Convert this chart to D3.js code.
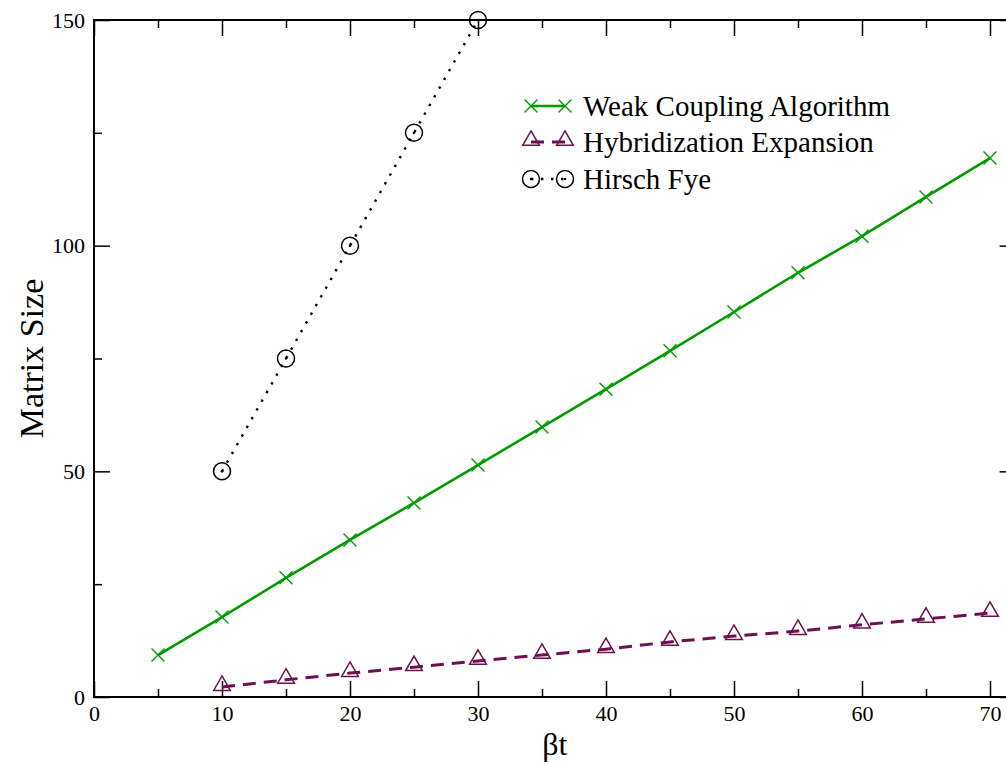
<!DOCTYPE html>
<html lang="en">
<head>
    <meta charset="UTF-8">
    <title>Matrix Size vs beta t</title>
    <script src="https://cdn.jsdelivr.net/npm/d3@7"></script>
    <style>
        body, html {
            margin: 0;
            padding: 0;
            background: #fff;
            overflow: hidden;
        }
        svg {
            display: block;
        }
        svg text {
            font-family: "Liberation Serif", "Times New Roman", serif;
        }
    </style>
</head>
<body>
    <svg id="mainsvg"></svg>
    <script>
        // data
        const weakBeta = [5, 10, 15, 20, 25, 30, 35, 40, 45, 50, 55, 60, 65, 70];
        const weakSize = [9.3, 17.7, 26.4, 34.8, 43.0, 51.4, 59.8, 68.2, 76.7, 85.3, 94.0, 102.1, 110.8, 119.4];

        const hybBeta = [10, 15, 20, 25, 30, 35, 40, 45, 50, 55, 60, 65, 70];
        const hybSize = [2.2, 3.8, 5.3, 6.6, 8.0, 9.3, 10.6, 12.2, 13.5, 14.6, 16.0, 17.3, 18.6];

        const hfBeta = [10, 15, 20, 25, 30];
        const hfSize = [50, 75, 100, 125, 150];

        const xMajor = [0, 10, 20, 30, 40, 50, 60, 70];
        const xMinor = [5, 15, 25, 35, 45, 55, 65];
        const yMajor = [0, 50, 100, 150];
        const yMinor = [25, 75, 125];

        const legendLabels = ["Weak Coupling Algorithm", "Hybridization Expansion", "Hirsch Fye"];

        const width = 1006, height = 764;
        const mLeft = 94, mRight = 1015.6, mTop = 20, mBottom = 697;

        const green = "#009a00";
        const maroon = "#6d1050";

        const svg = d3.select("#mainsvg")
            .attr("width", width)
            .attr("height", height);

        const x = d3.scaleLinear().domain([0, 72]).range([mLeft, mRight]);
        const y = d3.scaleLinear().domain([0, 150]).range([mBottom, mTop]);

        // axes, ticks pointing inward
        function styleAxis(g) {
            g.select(".domain").remove();
            g.selectAll(".tick line").attr("stroke", "#000").attr("stroke-width", 1.5);
            g.selectAll(".tick text").attr("font-size", 22).attr("fill", "#000")
                .style("font-family", "'Liberation Serif', serif");
        }

        svg.append("g").attr("transform", `translate(0,${mBottom})`)
            .call(d3.axisBottom(x).tickValues(xMajor).tickSize(-16).tickFormat(d3.format("d")))
            .call(styleAxis)
            .selectAll(".tick text").attr("y", 24).attr("dy", 0);
        svg.append("g").attr("transform", `translate(0,${mBottom})`)
            .call(d3.axisBottom(x).tickValues(xMinor).tickSize(-8).tickFormat(""))
            .call(styleAxis);
        svg.append("g").attr("transform", `translate(0,${mTop})`)
            .call(d3.axisTop(x).tickValues(xMajor).tickSize(-16).tickFormat(""))
            .call(styleAxis);
        svg.append("g").attr("transform", `translate(0,${mTop})`)
            .call(d3.axisTop(x).tickValues(xMinor).tickSize(-8).tickFormat(""))
            .call(styleAxis);

        svg.append("g").attr("transform", `translate(${mLeft},0)`)
            .call(d3.axisLeft(y).tickValues(yMajor).tickSize(-16).tickFormat(d3.format("d")))
            .call(styleAxis)
            .selectAll(".tick text").attr("x", -9).attr("dy", "0.32em");
        svg.append("g").attr("transform", `translate(${mLeft},0)`)
            .call(d3.axisLeft(y).tickValues(yMinor).tickSize(-8).tickFormat(""))
            .call(styleAxis);
        svg.append("g").attr("transform", `translate(${mRight},0)`)
            .call(d3.axisRight(y).tickValues(yMajor).tickSize(-16).tickFormat(""))
            .call(styleAxis);
        svg.append("g").attr("transform", `translate(${mRight},0)`)
            .call(d3.axisRight(y).tickValues(yMinor).tickSize(-8).tickFormat(""))
            .call(styleAxis);

        // frame
        svg.append("rect")
            .attr("x", mLeft).attr("y", mTop)
            .attr("width", mRight - mLeft).attr("height", mBottom - mTop)
            .attr("fill", "none").attr("stroke", "#000").attr("stroke-width", 2);

        // axis titles
        svg.append("text")
            .attr("x", (mLeft + mRight) / 2).attr("y", 755)
            .attr("text-anchor", "middle")
            .attr("font-size", 32)
            .text("βt");
        svg.append("text")
            .attr("transform", `translate(43,${(mTop + mBottom) / 2}) rotate(-90)`)
            .attr("text-anchor", "middle")
            .attr("font-size", 34)
            .text("Matrix Size");

        // marker shapes
        const crossPath = s => `M${-s},${-s}L${s},${s}M${-s},${s}L${s},${-s}`;
        const triPath = d3.symbol().type(d3.symbolTriangle).size(120);

        function drawCross(g, px, py) {
            g.append("path").attr("transform", `translate(${px},${py})`)
                .attr("d", crossPath(6.5))
                .attr("stroke", green).attr("stroke-width", 1.4).attr("fill", "none");
        }
        function drawTri(g, px, py) {
            g.append("path").attr("transform", `translate(${px},${py - 1.5})`)
                .attr("d", triPath())
                .attr("stroke", maroon).attr("stroke-width", 1.5).attr("fill", "none");
        }
        function drawCirc(g, px, py) {
            g.append("circle").attr("cx", px).attr("cy", py).attr("r", 8.5)
                .attr("stroke", "#000").attr("stroke-width", 1.5).attr("fill", "none");
            g.append("circle").attr("cx", px).attr("cy", py).attr("r", 1.3).attr("fill", "#000");
        }

        const line = d3.line().x(d => x(d[0])).y(d => y(d[1]));

        // Weak coupling
        const weak = d3.zip(weakBeta, weakSize);
        svg.append("path").datum(weak).attr("d", line)
            .attr("fill", "none").attr("stroke", green).attr("stroke-width", 2.6);
        const gW = svg.append("g");
        weak.forEach(d => drawCross(gW, x(d[0]), y(d[1])));

        // Hybridization
        const hyb = d3.zip(hybBeta, hybSize);
        svg.append("path").datum(hyb).attr("d", line)
            .attr("fill", "none").attr("stroke", maroon).attr("stroke-width", 3)
            .attr("stroke-dasharray", "13,8");
        const gH = svg.append("g");
        hyb.forEach(d => drawTri(gH, x(d[0]), y(d[1])));

        // Hirsch Fye
        const hf = d3.zip(hfBeta, hfSize);
        svg.append("path").datum(hf).attr("d", line)
            .attr("fill", "none").attr("stroke", "#000").attr("stroke-width", 2.4)
            .attr("stroke-dasharray", "2.4,7.6");
        const gF = svg.append("g");
        hf.forEach(d => drawCirc(gF, x(d[0]), y(d[1])));

        // legend
        const legY = [106, 142, 179];
        const lx0 = 531, lx1 = 565, tx = 583;
        const leg = svg.append("g");

        leg.append("line").attr("x1", lx0).attr("x2", lx1).attr("y1", legY[0]).attr("y2", legY[0])
            .attr("stroke", green).attr("stroke-width", 2.6);
        drawCross(leg, lx0, legY[0]);
        drawCross(leg, lx1, legY[0]);

        leg.append("line").attr("x1", lx0).attr("x2", lx1).attr("y1", legY[1]).attr("y2", legY[1])
            .attr("stroke", maroon).attr("stroke-width", 3).attr("stroke-dasharray", "13,8");
        drawTri(leg, lx0, legY[1]);
        drawTri(leg, lx1, legY[1]);

        leg.append("line").attr("x1", lx0).attr("x2", lx1).attr("y1", legY[2]).attr("y2", legY[2])
            .attr("stroke", "#000").attr("stroke-width", 2.4).attr("stroke-dasharray", "2.4,7.6");
        drawCirc(leg, lx0, legY[2]);
        drawCirc(leg, lx1, legY[2]);

        leg.selectAll("text.lab")
            .data(legendLabels)
            .join("text")
            .attr("class", "lab")
            .attr("x", tx)
            .attr("y", (d, i) => legY[i])
            .attr("dy", "0.34em")
            .attr("font-size", 29)
            .text(d => d);
    </script>
</body>
</html>
